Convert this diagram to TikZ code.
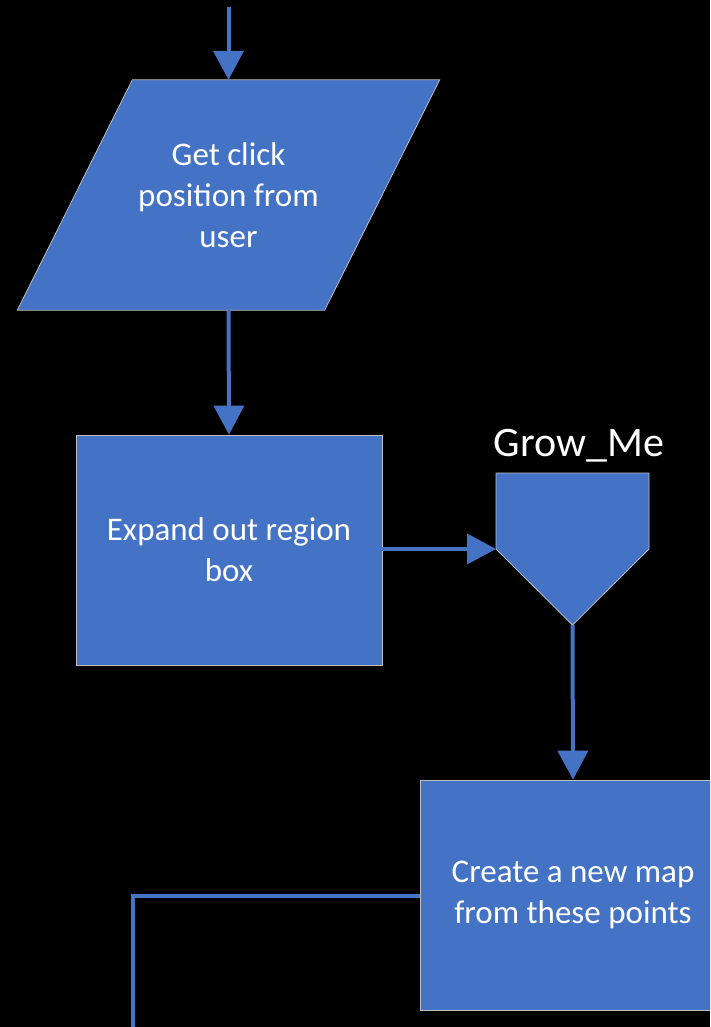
\documentclass[tikz,border=0pt]{standalone}
\usepackage{fontspec}
\setmainfont{Carlito}
\usetikzlibrary{positioning}
\usetikzlibrary{backgrounds}
\usetikzlibrary{arrows.meta}
\definecolor{bx}{RGB}{68, 114, 196}
\definecolor{rim}{RGB}{191, 191, 191}

\begin{document}
\begin{tikzpicture}[
  every node/.style={inner sep=0pt, text=white, align=center},
  box/.style={rectangle, fill=bx, draw=rim, line width=0.75pt, minimum width=306pt, minimum height=230pt, font=\fontsize{33}{41}\selectfont},
  iotext/.style={rectangle, minimum width=307pt, minimum height=230pt, font=\fontsize{33}{41}\selectfont},
  blockfill/.style={fill=bx, draw=rim, line width=0.75pt},
  flow/.style={draw=bx, line width=4pt, -{Triangle[length=29pt,width=30pt]}},
  link/.style={draw=bx, line width=4pt}
]
\begin{pgfonlayer}{background}
\fill[black] (0pt, 0pt) rectangle (710pt, -1027pt);
\end{pgfonlayer}
\clip (0pt, 0pt) rectangle (710pt, -1027pt);
\useasboundingbox (0pt, 0pt) rectangle (710pt, -1027pt);

\coordinate (start) at (228.5pt, -7pt);
\node (click) [iotext] at (228.5pt, -195pt) {Get click\\position from\\user};
\node (expand) [box] at (229pt, -550pt) {Expand out region\\box};
\node (newmap) [box] at (573pt, -895pt) {Create a new map\\from these points};

% input parallelogram behind its text
\begin{pgfonlayer}{background}
\draw [blockfill] ([xshift=57.5pt]click.north west) -- ([xshift=57.5pt]click.north east) -- ([xshift=-57.5pt]click.south east) -- ([xshift=-57.5pt]click.south west) -- cycle;
\end{pgfonlayer}

% off-page connector
\draw [blockfill] (496pt, -473pt) -- (649pt, -473pt) -- (649pt, -549pt) -- (572.5pt, -625pt) -- (496pt, -549pt) -- cycle;
\coordinate (grow-in) at (496pt, -549pt);
\coordinate (grow-out) at (572.5pt, -625pt);
\node (growlabel) [font=\fontsize{42}{50}\selectfont] at (579pt, -446pt) {Grow\_Me};

\coordinate (bend) at (133pt, -896pt);
\coordinate (stop) at (133pt, -1040pt);

\draw [flow] (start) to (click.north);
\draw [flow] (click.south) to (expand.north);
\draw [flow] (expand.east |- grow-in) to (grow-in);
\draw [flow] (grow-out) to (newmap.north);
\draw [link] (newmap.west |- bend) -- (bend) -- (stop);
\end{tikzpicture}
\end{document}
